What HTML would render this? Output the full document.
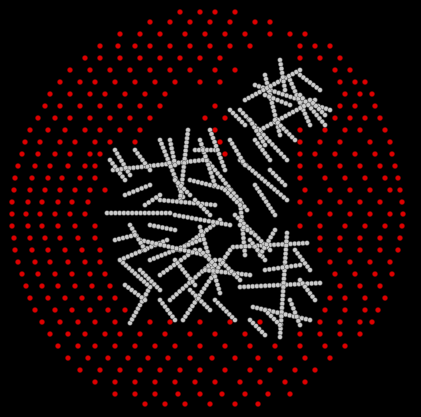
<!DOCTYPE html>
<html><head><meta charset="utf-8"><style>
html,body{margin:0;padding:0;background:#000;}
svg{display:block}
</style></head><body>
<svg id="chart" width="421" height="417" viewBox="0 0 421 417" xmlns="http://www.w3.org/2000/svg">
<rect width="421" height="417" fill="#000"/>
<g id="red"></g>
<g id="white"></g>
</svg>
<script>
const redRowY = [12,22,34,46,58,70,82,94,106,118,130,142,154,166,178,190,202,214,226,238,250,262,274,286,298,310,322,334,346,358,370,382,394,404];
const redRowX = [
[180,200,215,235],
[150,170,190,210,230,255,270],
[120,140,160,185,205,225,245,270,290,305],
[100,118,135,150,170,190,210,230,250,300,315,330],
[85,100,120,140,160,180,200,220,300,320,340],
[70,90,110,130,150,170,190,215,235,335,350],
[60,80,95,115,135,155,175,200,220,340,355,365],
[50,70,90,105,125,145,165,345,360,372],
[45,60,80,100,120,140,160,215,340,355,375],
[38,55,70,90,110,130,150,205,225,335,350,365,380],
[30,48,65,85,100,120,140,215,300,325,345,360,385],
[25,40,60,75,95,110,135,220,300,320,340,370,390],
[22,38,55,70,90,100,225,300,315,335,355,375,392],
[18,35,50,68,85,95,300,320,340,360,380,395],
[15,32,48,62,80,95,300,325,345,365,385,398],
[14,30,45,60,75,90,105,305,330,350,370,390,400],
[12,28,42,58,72,88,300,320,340,360,380,402],
[12,26,40,55,70,85,310,330,350,370,390,403],
[12,28,42,58,75,95,300,320,345,365,385,402],
[14,30,45,60,78,95,320,340,360,380,400],
[15,32,48,65,82,100,320,340,360,380,398],
[18,35,50,68,85,100,330,350,370,390],
[22,38,55,72,90,105,335,355,375,392],
[26,42,58,75,92,110,340,360,380],
[30,48,65,82,100,115,330,345,365,385],
[35,55,72,90,108,125,325,345,365,378],
[42,60,78,95,115,150,170,200,230,260,320,340,360,372],
[50,68,85,105,120,140,165,190,215,245,300,320,340,360],
[58,78,95,115,135,155,175,200,225,250,275,300,325,345],
[68,88,108,128,148,168,190,212,235,258,280,305,330],
[80,100,120,140,160,180,200,225,250,270,295,315],
[95,115,135,155,175,195,215,240,260,285,305],
[115,135,155,178,200,222,245,268,290],
[145,165,185,210,235,258]
];
// cluster branches: start and end points
const branchStart = [[107,213],[113,170],[160,140],[188,130],[207,160],[240,200],[220,220],[240,110],[240,160],[255,85],[265,75],[290,80],[245,100],[130,323],[150,287],[150,260],[170,300],[183,320],[233,247],[240,287],[253,307],[287,233],[235,215],[200,227],[195,250],[120,260],[175,215],[110,160],[190,180],[215,185],[260,130],[300,95],[140,240],[265,270],[205,270],[160,200],
[115,150],[125,195],[135,150],[170,140],[195,150],[210,130],[230,140],[250,120],[265,95],[280,60],[300,75],[310,100],[255,140],[270,170],[255,185],[225,190],[130,225],[115,240],[140,270],[125,285],[160,300],[175,260],[190,290],[215,300],[220,260],[250,240],[260,255],[295,250],[300,280],[265,310],[290,300],[250,320],[195,200],[150,225],[175,180],[240,225],[200,250],[145,205],[230,110],[275,120]];
const branchEnd   = [[170,213],[203,160],[183,197],[180,200],[247,210],[245,255],[180,250],[287,160],[287,200],[330,110],[280,135],[310,125],[300,70],[150,287],[120,260],[200,240],[215,260],[230,250],[307,243],[320,283],[310,320],[280,337],[270,250],[220,293],[160,275],[167,240],[230,225],[125,180],[230,190],[200,140],[315,100],[325,125],[205,255],[300,265],[250,275],[215,205],
[130,175],[150,185],[150,170],[175,165],[215,150],[225,170],[245,165],[265,145],[290,105],[285,90],[320,90],[325,115],[270,160],[285,185],[275,215],[240,205],[145,250],[135,235],[160,290],[145,300],[175,320],[195,285],[210,310],[235,320],[240,280],[265,260],[275,230],[310,270],[315,300],[280,325],[300,325],[265,335],[210,215],[175,230],[190,195],[255,235],[215,265],[160,195],[245,125],[295,140]];

const NS='http://www.w3.org/2000/svg';
const red=document.getElementById('red');
redRowY.forEach((y,i)=>{
  redRowX[i].forEach(x=>{
    const c=document.createElementNS(NS,'circle');
    
    
    c.setAttribute('cx',x);c.setAttribute('cy',y);c.setAttribute('r',2.6);
    c.setAttribute('fill','#d00');c.setAttribute('stroke','#700');c.setAttribute('stroke-width','0.6');
    red.appendChild(c);
  });
});
const white=document.getElementById('white');
branchStart.forEach((s,i)=>{
  const e=branchEnd[i];
  const dx=e[0]-s[0],dy=e[1]-s[1];
  const len=Math.hypot(dx,dy);
  const n=Math.max(1,Math.round(len/4.2));
  for(let k=0;k<=n;k++){
    const c=document.createElementNS(NS,'circle');
    
    
    c.setAttribute('cx',s[0]+dx*k/n);c.setAttribute('cy',s[1]+dy*k/n);c.setAttribute('r',2.3);
    c.setAttribute('fill','#ccc');c.setAttribute('stroke','#666');c.setAttribute('stroke-width','0.7');
    white.appendChild(c);
  }
});
</script>
</body></html>
